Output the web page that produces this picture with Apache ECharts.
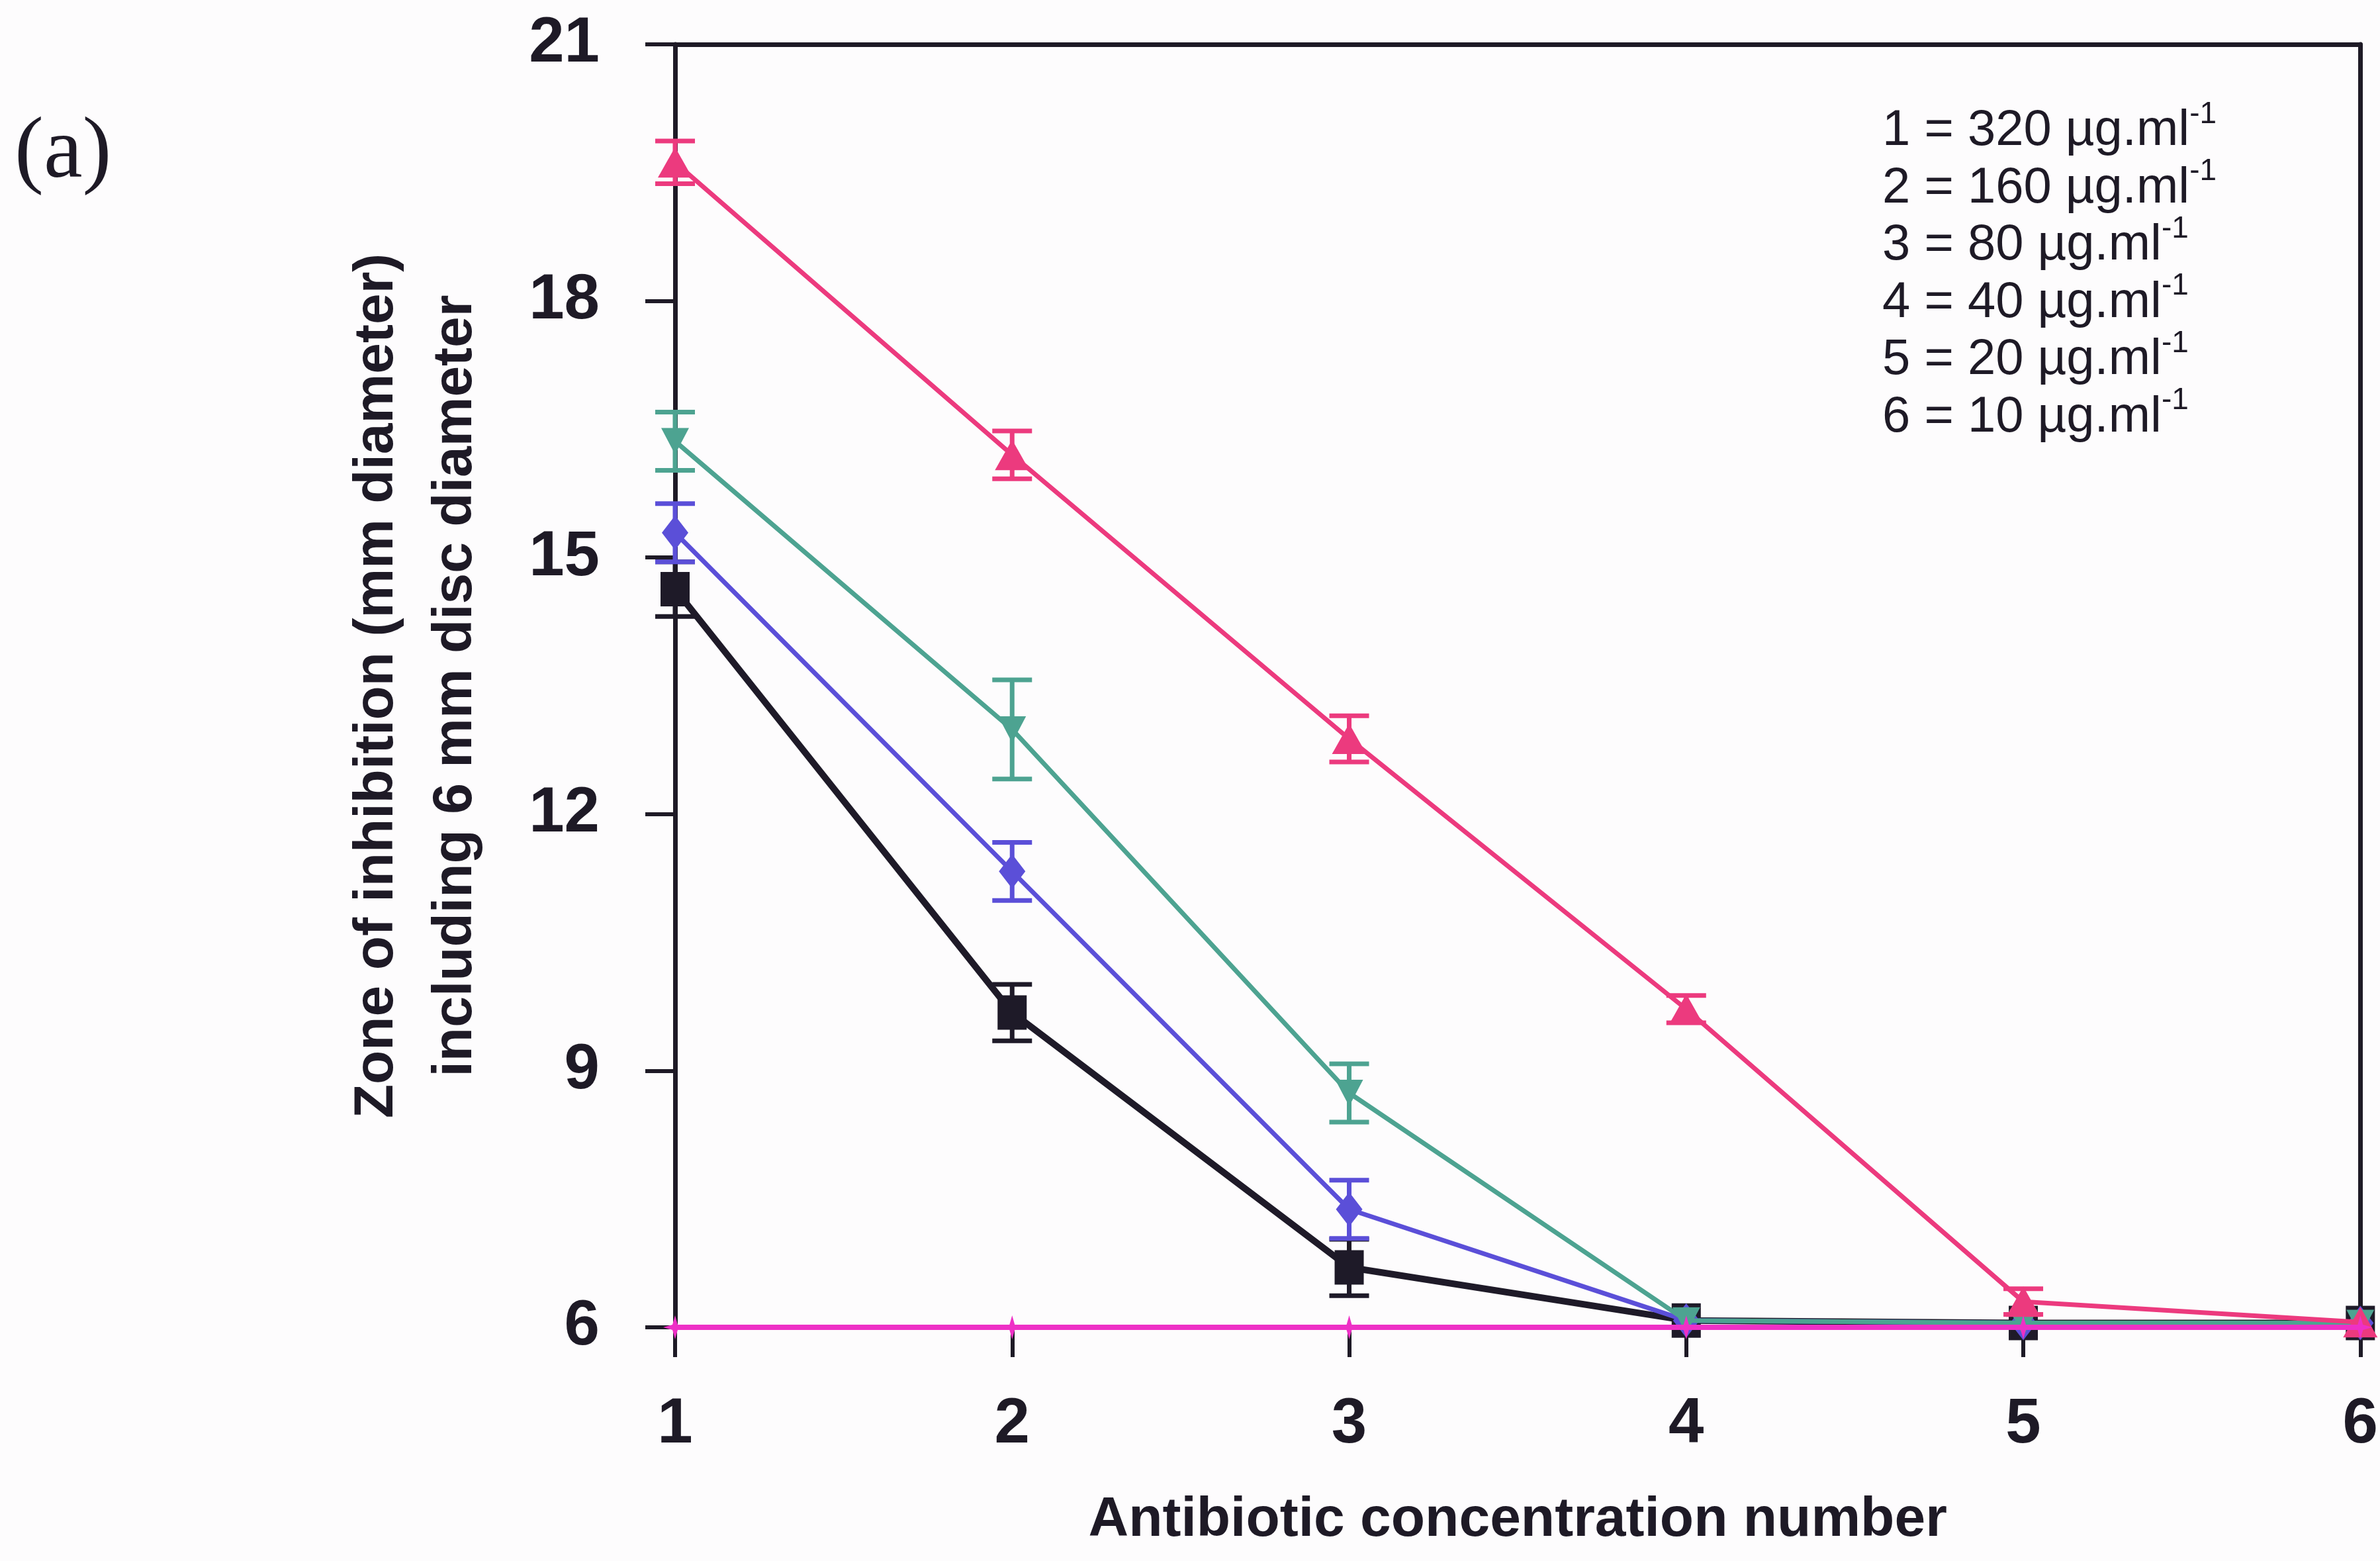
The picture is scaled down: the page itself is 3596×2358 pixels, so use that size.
<!DOCTYPE html>
<html>
<head>
<meta charset="utf-8">
<title>Zone of inhibition</title>
<script src="https://cdn.jsdelivr.net/npm/echarts@6/dist/echarts.min.js"></script>
<style>
  html, body { margin: 0; padding: 0; background: #fdfcfd; }
  #chart { width: 3596px; height: 2358px; }
</style>
</head>
<body>
<div id="chart"></div>
<script>
// Antibiotic concentration numbers (x positions)
const concNumbers = [1, 2, 3, 4, 5, 6];
// Y axis ticks
const yTicks = [6, 9, 12, 15, 18, 21];
// Key for the concentration numbers
const concKey = [
  ['1', '320'], ['2', '160'], ['3', '80'], ['4', '40'], ['5', '20'], ['6', '10']
];

// Mean zone of inhibition (mm) and error (±) for each series
const pinkValues  = [19.62, 16.20, 12.88, 9.72, 6.30, 6.06];
const pinkErr     = [0.25, 0.28, 0.27, 0.16, 0.15, 0];
const tealValues  = [16.36, 12.99, 8.74, 6.08, 6.05, 6.05];
const tealErr     = [0.34, 0.58, 0.34, 0, 0, 0];
const blueValues  = [15.29, 11.33, 7.38, 6.08, 6.05, 6.05];
const blueErr     = [0.34, 0.34, 0.34, 0, 0, 0];
const blackValues = [14.63, 9.68, 6.70, 6.08, 6.05, 6.05];
const blackErr    = [0.32, 0.33, 0.33, 0, 0, 0];
const controlValues = [6, 6, 6, 6, 6, 6];

const C_PINK = '#ec3a7e';
const C_TEAL = '#4da391';
const C_BLUE = '#5b4fd8';
const C_BLACK = '#1e1a28';
const C_MAGENTA = '#ee30c6';
const C_AXIS = '#1e1a26';

function pairs(values) {
  return values.map((v, i) => [concNumbers[i], v]);
}

function lineSeries(name, values, color, width, symbol, size, rotate, z) {
  return {
    type: 'line', name, data: pairs(values),
    symbol, symbolSize: size, symbolRotate: rotate || 0,
    lineStyle: { color, width },
    itemStyle: { color },
    z
  };
}

function errorSeries(name, values, errs, color, z) {
  const data = [];
  values.forEach((v, i) => {
    if (errs[i] > 0) data.push([concNumbers[i], v - errs[i], v + errs[i]]);
  });
  return {
    type: 'custom', name, data, z,
    encode: { x: 0, y: [1, 2] },
    renderItem(params, api) {
      const x = api.value(0);
      const lo = api.coord([x, api.value(1)]);
      const hi = api.coord([x, api.value(2)]);
      const hw = 30;
      const st = { stroke: color, lineWidth: 7 };
      return {
        type: 'group',
        children: [
          { type: 'line', shape: { x1: lo[0], y1: lo[1], x2: hi[0], y2: hi[1] }, style: st },
          { type: 'line', shape: { x1: lo[0] - hw, y1: lo[1], x2: lo[0] + hw, y2: lo[1] }, style: st },
          { type: 'line', shape: { x1: hi[0] - hw, y1: hi[1], x2: hi[0] + hw, y2: hi[1] }, style: st }
        ]
      };
    }
  };
}

const starPath = 'path://M0,-10 L2.2,-2.2 L10,0 L2.2,2.2 L0,10 L-2.2,2.2 L-10,0 L-2.2,-2.2 Z';

const keyText = concKey.map(k => `{n|${k[0]} = ${k[1]} µg.ml}{s|-1}`).join('\n');

const chart = echarts.init(document.getElementById('chart'), null, { renderer: 'canvas' });

chart.setOption({
  backgroundColor: '#fdfcfd',
  animation: false,
  grid: { left: 1020, right: 23, top: 67, bottom: 353 },
  xAxis: [{
    type: 'value', min: 1, max: 6, interval: 1,
    name: 'Antibiotic concentration number',
    nameLocation: 'middle', nameGap: 250,
    nameTextStyle: { fontFamily: 'Liberation Sans', fontWeight: 'bold', fontSize: 84, color: C_AXIS },
    axisLine: { show: false },
    axisTick: { show: true, inside: false, length: 45, lineStyle: { color: C_AXIS, width: 6 } },
    axisLabel: { margin: 100, fontFamily: 'Liberation Sans', fontWeight: 'bold', fontSize: 96, color: C_AXIS },
    splitLine: { show: false }
  }, {
    type: 'value', min: 1, max: 6, position: 'top',
    axisLine: { show: true, lineStyle: { color: C_AXIS, width: 7 } },
    axisTick: { show: false }, axisLabel: { show: false }, splitLine: { show: false }
  }],
  yAxis: [{
    type: 'value', min: 6, max: 21, interval: 3,
    name: 'Zone of inhibition (mm diameter)\nincluding 6 mm disc diameter',
    nameLocation: 'middle', nameRotate: 90, nameGap: 272,
    nameTextStyle: { fontFamily: 'Liberation Sans', fontWeight: 'bold', fontSize: 84, lineHeight: 119, color: C_AXIS, align: 'center' },
    axisLine: { show: true, lineStyle: { color: C_AXIS, width: 7 } },
    axisTick: { show: true, inside: false, length: 45, lineStyle: { color: C_AXIS, width: 6 } },
    axisLabel: { margin: 114, fontFamily: 'Liberation Sans', fontWeight: 'bold', fontSize: 96, color: C_AXIS },
    splitLine: { show: false }
  }, {
    type: 'value', min: 6, max: 21, position: 'right',
    axisLine: { show: true, lineStyle: { color: C_AXIS, width: 7 } },
    axisTick: { show: false }, axisLabel: { show: false }, splitLine: { show: false }
  }],
  graphic: [
    {
      type: 'text', left: 22, top: 166,
      style: { text: '(a)', fontFamily: 'Liberation Serif', fontSize: 132, fill: '#1e1a26' }
    },
    {
      type: 'text', left: 2844, top: 150,
      style: {
        text: keyText,
        fill: '#1e1a26',
        rich: {
          n: { fontFamily: 'Liberation Sans', fontSize: 76, lineHeight: 86.5, fill: '#1e1a26', verticalAlign: 'bottom' },
          s: { fontFamily: 'Liberation Sans', fontSize: 46, lineHeight: 86.5, fill: '#1e1a26', verticalAlign: 'top', padding: [0, 0, 28, 0] }
        }
      }
    }
  ],
  series: [
    lineSeries('black', blackValues, C_BLACK, 10, 'rect', [44, 52], 0, 2),
    errorSeries('black err', blackValues, blackErr, C_BLACK, 2),
    lineSeries('blue', blueValues, C_BLUE, 7, 'diamond', [40, 52], 0, 3),
    errorSeries('blue err', blueValues, blueErr, C_BLUE, 3),
    lineSeries('teal', tealValues, C_TEAL, 7, 'triangle', [42, 40], 180, 4),
    errorSeries('teal err', tealValues, tealErr, C_TEAL, 4),
    lineSeries('pink', pinkValues, C_PINK, 7, 'triangle', [52, 46], 0, 5),
    errorSeries('pink err', pinkValues, pinkErr, C_PINK, 5),
    lineSeries('control', controlValues, C_MAGENTA, 8, starPath, 36, 0, 6)
  ]
});
</script>
</body>
</html>
